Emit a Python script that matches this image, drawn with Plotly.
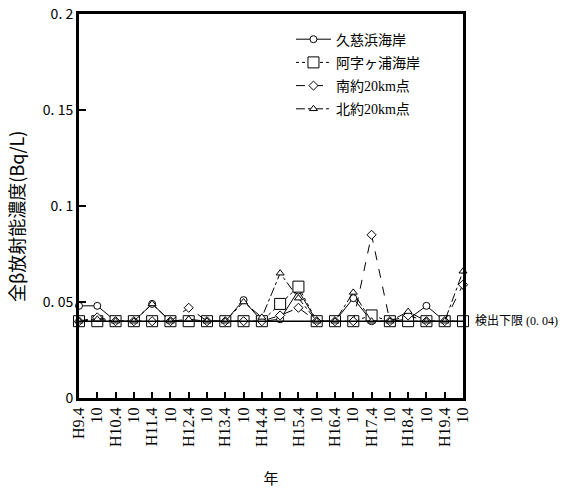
import plotly.graph_objects as go

tick_labels = ["H9.4", "10", "H10.4", "10", "H11.4", "10", "H12.4", "10", "H13.4", "10",
               "H14.4", "10", "H15.4", "10", "H16.4", "10", "H17.4", "10", "H18.4", "10",
               "H19.4", "10"]

kujihama = [0.048, 0.048, 0.040, 0.040, 0.049, 0.040, 0.040, 0.040, 0.040, 0.051, 0.040,
            0.041, 0.056, 0.040, 0.040, 0.052, 0.040, 0.040, 0.041, 0.048, 0.040, 0.040]
ajigaura = [0.040, 0.040, 0.040, 0.040, 0.040, 0.040, 0.040, 0.040, 0.040, 0.040, 0.040,
            0.049, 0.058, 0.040, 0.040, 0.040, 0.043, 0.040, 0.040, 0.040, 0.040, 0.040]
south20 = [0.040, 0.042, 0.040, 0.040, 0.040, 0.040, 0.047, 0.040, 0.040, 0.040, 0.040,
           0.043, 0.047, 0.040, 0.040, 0.040, 0.085, 0.040, 0.043, 0.040, 0.040, 0.059]
north20 = [0.040, 0.041, 0.040, 0.040, 0.049, 0.040, 0.041, 0.040, 0.040, 0.050, 0.042,
           0.065, 0.052, 0.040, 0.040, 0.055, 0.040, 0.040, 0.045, 0.040, 0.040, 0.066]

detection_limit = 0.04
y_tickvals = [0, 0.05, 0.1, 0.15, 0.2]
y_ticktext = ["0", "0.\u00a005", "0.\u00a01", "0.\u00a015", "0.\u00a02"]

x = list(range(len(tick_labels)))
serif = "Liberation Serif, Noto Sans CJK JP"
gothic = "Noto Sans CJK JP, DejaVu Sans"

series = [
    ("久慈浜海岸", kujihama, "solid", "circle", 7),
    ("阿字ヶ浦海岸", ajigaura, "dot", "square", 11),
    ("南約20km点", south20, "dash", "diamond", 7),
    ("北約20km点", north20, "dashdot", "triangle-up", 7),
]

fig = go.Figure()
for i, (name, vals, dash, sym, size) in enumerate(series):
    fig.add_trace(go.Scatter(
        x=x, y=vals, name=name, mode="lines+markers", legendgroup=f"g{i}",
        line=dict(color="black", width=1, dash=dash),
        marker=dict(symbol=sym, size=size, color="white", line=dict(color="black", width=1)),
        cliponaxis=False,
    ))

fig.add_shape(type="line", xref="x", yref="y", x0=0, x1=len(x) - 1,
              y0=detection_limit, y1=detection_limit, line=dict(color="black", width=1.5))
fig.add_annotation(x=1, xref="paper", xshift=10, y=detection_limit, yref="y",
                   text="検出下限 (0.\u00a004)", showarrow=False, xanchor="left",
                   font=dict(family=serif, size=12, color="black"))
fig.add_annotation(x=0, xref="paper", xshift=-63, xanchor="center",
                   y=0.5, yref="paper", yshift=-11, yanchor="middle",
                   text="全β放射能濃度(Bq/L)", textangle=-90, showarrow=False,
                   font=dict(family=gothic, size=18, color="black"))

fig.update_layout(
    width=587, height=493,
    margin=dict(l=79, r=124, t=14, b=95),
    paper_bgcolor="white", plot_bgcolor="white",
    showlegend=True,
    legend=dict(x=0.552, y=0.975, xanchor="left", yanchor="top",
                bgcolor="rgba(0,0,0,0)", borderwidth=0,
                font=dict(family=serif, size=14, color="black"),
                itemwidth=35, traceorder="grouped", tracegroupgap=2),
    xaxis=dict(range=[0, len(x) - 1], tickvals=x, ticktext=tick_labels,
               tickangle=-90, ticks="inside", ticklen=6, tickwidth=2, tickcolor="black",
               showline=True, linecolor="black", linewidth=3, mirror=True,
               showgrid=False, zeroline=False, automargin=False,
               tickfont=dict(family=serif, size=16, color="black"),
               title=dict(text="年", font=dict(family=serif, size=15, color="black"), standoff=28)),
    yaxis=dict(range=[0, 0.2], tickvals=y_tickvals, ticktext=y_ticktext,
               ticks="inside", ticklen=7, tickwidth=2, tickcolor="black",
               showline=True, linecolor="black", linewidth=3, mirror=True,
               showgrid=False, zeroline=False, automargin=False,
               ticklabeloverflow="allow",
               tickfont=dict(family=gothic, size=14, color="black")),
)

fig.write_html("out.html", config={"displayModeBar": False},
               post_script="document.body.style.margin='0';")
